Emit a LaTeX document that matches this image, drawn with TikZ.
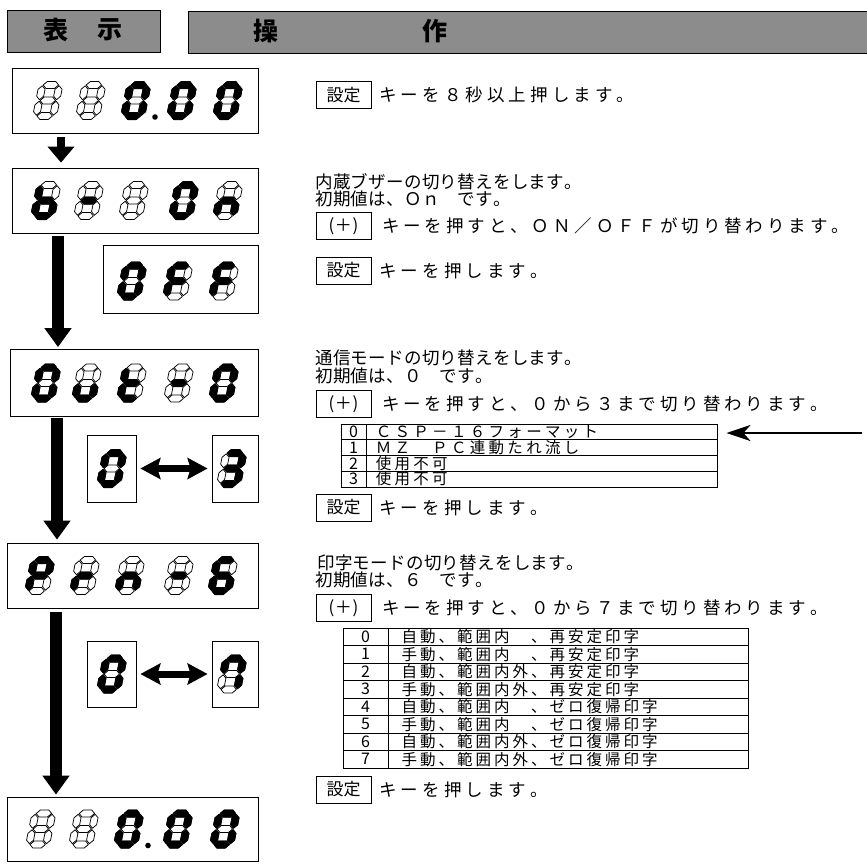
\documentclass[tikz,border=0pt]{standalone}
\usepackage{fontspec}
\setmainfont{Noto Sans CJK JP}
\newfontfamily\jp{Noto Sans CJK JP}
\usetikzlibrary{arrows.meta}

% text with a fixed pitch for every character
\makeatletter
\newcommand\pitched[2]{\@tfor\pt@c:=#2\do{\makebox[#1][c]{\pt@c}}}
\makeatother

% seven-segment pieces, local coords (y up), digit box 24 x 38
\def\sega#1{\path[#1] (4.3,34.5)--(7.8,38)--(16.2,38)--(19.7,34.5)--(16.2,31)--(7.8,31)--cycle;}
\def\segg#1{\path[#1] (4.3,19)--(7.8,22.5)--(16.2,22.5)--(19.7,19)--(16.2,15.5)--(7.8,15.5)--cycle;}
\def\segd#1{\path[#1] (4.3,3.5)--(7.8,7)--(16.2,7)--(19.7,3.5)--(16.2,0)--(7.8,0)--cycle;}
\def\segf#1{\path[#1] (3.5,19.8)--(7,23.3)--(7,30.2)--(3.5,33.7)--(0,30.2)--(0,23.3)--cycle;}
\def\sege#1{\path[#1] (3.5,4.3)--(7,7.8)--(7,14.7)--(3.5,18.2)--(0,14.7)--(0,7.8)--cycle;}
\def\segb#1{\path[#1] (20.5,19.8)--(24,23.3)--(24,30.2)--(20.5,33.7)--(17,30.2)--(17,23.3)--cycle;}
\def\segc#1{\path[#1] (20.5,4.3)--(24,7.8)--(24,14.7)--(20.5,18.2)--(17,14.7)--(17,7.8)--cycle;}
\def\segnone#1{}
\newcommand\segdig[3]{%
  \begin{scope}[shift={(#1,#2)},xslant=0.2,yscale=-1]
    \foreach \s in {a,b,c,d,e,f,g}{\csname seg\s\endcsname{unlit}}
    \foreach \s in {#3}{\csname seg\s\endcsname{lit}}
  \end{scope}}

\begin{document}
\begin{tikzpicture}[x=1pt,y=-1pt,
  lit/.style={fill=black,draw=black,line width=1pt,line join=round},
  unlit/.style={fill=white,draw=black,line width=0.75pt,line join=round},
  hdr/.style={draw,line width=1pt,fill=black!45,inner sep=0pt},
  hdrtxt/.style={inner sep=0pt,font=\jp\bfseries\fontsize{25}{27}\selectfont},
  disp/.style={draw,line width=0.8pt,inner sep=0pt},
  keybox/.style={draw,line width=0.9pt,minimum width=55pt,minimum height=27pt,inner sep=0pt,font=\jp\fontsize{17}{19}\selectfont},
  desc/.style={anchor=west,inner sep=0pt,font=\jp\fontsize{17.5}{19}\selectfont},
  keytxt/.style={anchor=west,inner sep=0pt,font=\jp\fontsize{17.5}{19}\selectfont},
  tbl/.style={draw,line width=0.9pt,inner sep=0pt},
  tblnum/.style={inner sep=0pt,font=\jp\fontsize{16}{17}\selectfont},
  tbltxt/.style={anchor=west,inner sep=0pt,font=\jp\fontsize{15.5}{17}\selectfont},
  bigarrow/.style={line width=12pt,-{Triangle[width=26pt,length=19pt]}},
  smallarrow/.style={line width=8pt,-{Triangle[width=26pt,length=16pt]}},
  dblarrow/.style={line width=7pt,{Stealth[width=21pt,length=20pt,inset=3pt]}-{Stealth[width=21pt,length=20pt,inset=3pt]}},
  longarrow/.style={line width=2.8pt,-{Stealth[width=16pt,length=24pt,inset=7pt]}}
]
\useasboundingbox (0,0) rectangle (867,863);

% headers
\node[hdr,minimum width=153pt,minimum height=42pt] (hl) at (83.5,31) {};
\node[hdr,minimum width=679pt,minimum height=42pt] (hr) at (527.5,32) {};
\node[hdrtxt] (h1) at (56,30) {表};
\node[hdrtxt] (h2) at (110,30) {示};
\node[hdrtxt] (h3) at (266,31) {操};
\node[hdrtxt] (h4) at (435,31) {作};

% display boxes
\node[disp,minimum width=246pt,minimum height=65pt] (d1) at (135,100.5) {};
\node[disp,minimum width=246pt,minimum height=65pt] (d2) at (135,200.5) {};
\node[disp,minimum width=155pt,minimum height=68pt] (doff) at (180.5,279) {};
\node[disp,minimum width=248pt,minimum height=67pt] (d3) at (134,383) {};
\node[disp,minimum width=49pt,minimum height=67pt] (s1) at (111.5,468.5) {};
\node[disp,minimum width=46pt,minimum height=67pt] (s2) at (235,468.5) {};
\node[disp,minimum width=251pt,minimum height=65pt] (d4) at (132.5,575.5) {};
\node[disp,minimum width=49pt,minimum height=66pt] (s3) at (111.5,674) {};
\node[disp,minimum width=46pt,minimum height=66pt] (s4) at (235,674) {};
\node[disp,minimum width=251pt,minimum height=64pt] (d5) at (132.5,829) {};

% digits: display 1  "  0.00"
\segdig{32}{119.5}{none}
\segdig{75}{119.5}{none}
\segdig{120}{119.5}{a,b,c,d,e,f}
\fill (155,117) circle (2.8);
\segdig{166}{119.5}{a,b,c,d,e,f}
\segdig{212}{119.5}{a,b,c,d,e,f}
% display 2  "b-  On"
\segdig{30}{219.5}{c,d,e,f,g}
\segdig{73}{219.5}{g}
\segdig{118}{219.5}{none}
\segdig{168}{219.5}{a,b,c,d,e,f}
\segdig{212}{219.5}{c,e,g}
% OFF
\segdig{116}{300}{a,b,c,d,e,f}
\segdig{162}{300}{a,e,f,g}
\segdig{208}{300}{a,e,f,g}
% display 3 "Out-0"
\segdig{30}{402}{a,b,c,d,e,f}
\segdig{71}{402}{c,d,e}
\segdig{116}{402}{d,e,f,g}
\segdig{163}{402}{g}
\segdig{208}{402}{a,b,c,d,e,f}
% 0 <-> 3
\segdig{96}{487.5}{a,b,c,d,e,f}
\segdig{216}{487.5}{a,b,c,d,g}
% display 4 "Prn-6"
\segdig{24}{594.5}{a,b,e,f,g}
\segdig{69}{594.5}{e,g}
\segdig{114}{594.5}{c,e,g}
\segdig{163}{594.5}{g}
\segdig{207}{594.5}{a,c,d,e,f,g}
% 0 <-> 7
\segdig{96}{693}{a,b,c,d,e,f}
\segdig{216}{693}{a,b,c,f}
% final display "  0.00"
\segdig{25}{848}{none}
\segdig{68}{848}{none}
\segdig{113}{848}{a,b,c,d,e,f}
\fill (148,845.5) circle (2.8);
\segdig{162}{848}{a,b,c,d,e,f}
\segdig{209}{848}{a,b,c,d,e,f}

% arrows between displays
\coordinate (ax1) at (61,0);
\coordinate (ax2) at (58,0);
\coordinate (ax3) at (57,0);
\coordinate (ax4) at (56,0);
\draw[smallarrow,shorten <=4pt,shorten >=5pt] (d1.south -| ax1) -- (d2.north -| ax1);
\draw[bigarrow,shorten <=3pt,shorten >=2pt] (d2.south -| ax2) -- (d3.north -| ax2);
\draw[bigarrow,shorten <=1pt,shorten >=3pt] (d3.south -| ax3) -- (d4.north -| ax3);
\draw[bigarrow,shorten <=4pt,shorten >=2pt] (d4.south -| ax4) -- (d5.north -| ax4);
\draw[dblarrow,shorten <=4pt,shorten >=4pt] (s1.east) -- (s2.west);
\draw[dblarrow,shorten <=4pt,shorten >=4pt] (s3.east) -- (s4.west);

% right column
\node[keybox] (k1) at (343.5,95) {設定};
\node[keytxt] (t1) at (377,95) {\pitched{21.6pt}{キーを８秒以上押します。}};

\node[desc] (t2) at (315,182) {\pitched{17.8pt}{内蔵ブザーの切り替えをします。}};
\node[desc] (t3) at (315,199) {\pitched{17.8pt}{初期値は、Ｏｎ　です。}};
\node[keybox] (k2) at (343.5,226) {\pitched{12pt}{(＋)}};
\node[keytxt] (t4) at (380,226) {\pitched{21.4pt}{キーを押すと、ＯＮ／ＯＦＦが切り替わります。}};
\node[keybox] (k3) at (343.5,270.5) {設定};
\node[keytxt] (t5) at (377,270.5) {\pitched{21.6pt}{キーを押します。}};

\node[desc] (t6) at (315,358) {\pitched{17.8pt}{通信モードの切り替えをします。}};
\node[desc] (t7) at (315,376) {\pitched{17.8pt}{初期値は、０　です。}};
\node[keybox] (k4) at (343.5,404) {\pitched{12pt}{(＋)}};
\node[keytxt] (t8) at (380,404) {\pitched{21.4pt}{キーを押すと、０から３まで切り替わります。}};

% table 1
\node[tbl,minimum width=376pt,minimum height=63pt] (tb1) at (529,455.5) {};
\foreach \yy in {439.75,455.5,471.25}{\draw[line width=0.9pt] (341,\yy) -- (717,\yy);}
\draw[line width=0.9pt] (366,424) -- (366,487);
\node[tblnum] (n10) at (353.5,432) {0};
\node[tblnum] (n11) at (353.5,447.6) {1};
\node[tblnum] (n12) at (353.5,463.4) {2};
\node[tblnum] (n13) at (353.5,479.1) {3};
\node[tbltxt] (r10) at (374,432) {\pitched{18.8pt}{ＣＳＰ－１６フォーマット}};
\node[tbltxt] (r11) at (374,447.6) {\pitched{18.8pt}{ＭＺ　ＰＣ連動たれ流し}};
\node[tbltxt] (r12) at (374,463.4) {\pitched{18.8pt}{使用不可}};
\node[tbltxt] (r13) at (374,479.1) {\pitched{18.8pt}{使用不可}};
\coordinate (la) at (862,433);
\draw[longarrow,shorten >=9pt] (la) -- (la -| tb1.east);

\node[keybox] (k5) at (343.5,507.5) {設定};
\node[keytxt] (t9) at (377,507.5) {\pitched{21.6pt}{キーを押します。}};

\node[desc] (t10) at (317,563) {\pitched{17.8pt}{印字モードの切り替えをします。}};
\node[desc] (t11) at (315,580) {\pitched{17.8pt}{初期値は、６　です。}};
\node[keybox] (k6) at (343.5,608) {\pitched{12pt}{(＋)}};
\node[keytxt] (t12) at (380,608) {\pitched{21.4pt}{キーを押すと、０から７まで切り替わります。}};

% table 2
\node[tbl,minimum width=405pt,minimum height=140pt] (tb2) at (545.5,698) {};
\foreach \k in {1,...,7}{\draw[line width=0.9pt] (343,628+17.5*\k) -- (748,628+17.5*\k);}
\draw[line width=0.9pt] (388,628) -- (388,768);
\foreach \k in {0,...,7}{\node[tblnum] (n2\k) at (365.5,636.75+17.5*\k) {\k};}
\node[tbltxt] (r20) at (400,636.75) {\pitched{18.5pt}{自動、範囲内　、再安定印字}};
\node[tbltxt] (r21) at (400,654.25) {\pitched{18.5pt}{手動、範囲内　、再安定印字}};
\node[tbltxt] (r22) at (400,671.75) {\pitched{18.5pt}{自動、範囲内外、再安定印字}};
\node[tbltxt] (r23) at (400,689.25) {\pitched{18.5pt}{手動、範囲内外、再安定印字}};
\node[tbltxt] (r24) at (400,706.75) {\pitched{18.5pt}{自動、範囲内　、ゼロ復帰印字}};
\node[tbltxt] (r25) at (400,724.25) {\pitched{18.5pt}{手動、範囲内　、ゼロ復帰印字}};
\node[tbltxt] (r26) at (400,741.75) {\pitched{18.5pt}{自動、範囲内外、ゼロ復帰印字}};
\node[tbltxt] (r27) at (400,759.25) {\pitched{18.5pt}{手動、範囲内外、ゼロ復帰印字}};

\node[keybox] (k7) at (343.5,789.5) {設定};
\node[keytxt] (t13) at (377,789.5) {\pitched{21.6pt}{キーを押します。}};
\end{tikzpicture}
\end{document}
